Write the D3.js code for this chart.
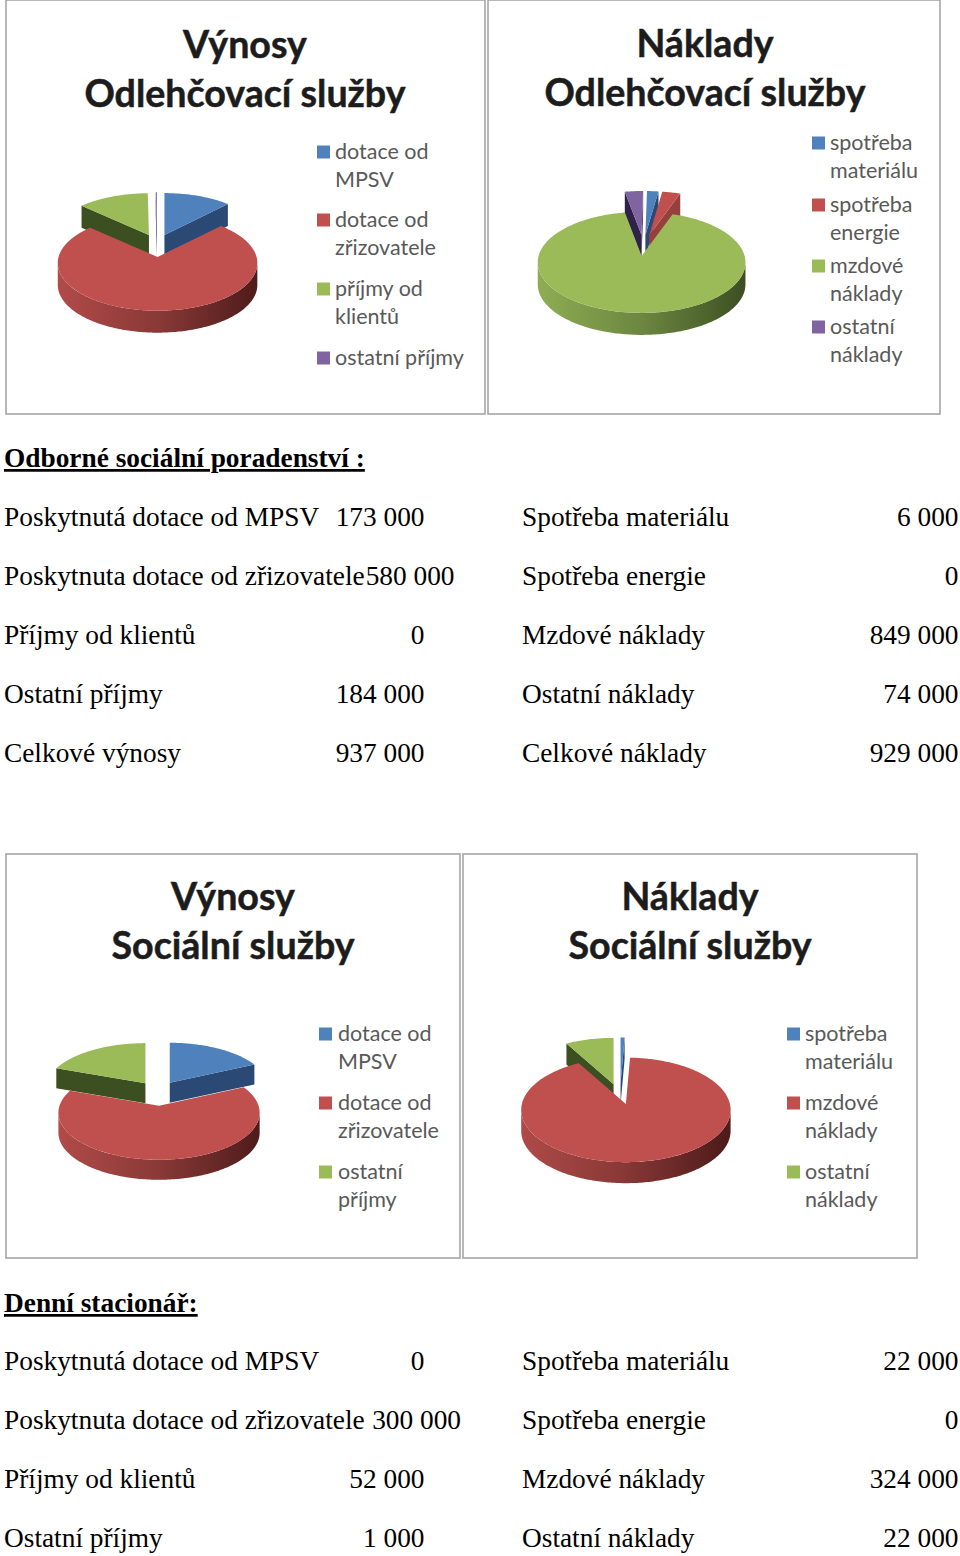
<!DOCTYPE html>
<html>
<head>
<meta charset="utf-8">
<script src="https://cdn.jsdelivr.net/npm/d3@7"></script>
<style>
html, body { margin: 0; padding: 0; background: #fff; }
svg { display: block; }
.title { font-family: Lato, sans-serif; font-weight: 700; font-size: 37.6px; fill: #1c1c1c; stroke: #1c1c1c; stroke-width: 0.5px; text-anchor: middle; }
.legend { font-family: Lato, sans-serif; font-size: 21.5px; fill: #595959; }
.body { font-family: "Liberation Serif", serif; font-size: 27.35px; fill: #000; }
.head { font-weight: 700; text-decoration: underline; }
</style>
</head>
<body>
<div id="canvas"></div>
<script>
// slice shares (percent)
let revenueLabels1 = [["dotace od", "MPSV"], ["dotace od", "zřizovatele"], ["příjmy od", "klientů"], ["ostatní příjmy"]];
let revenueValues1 = [12.3, 74.5, 13, 0.2];
let costLabels1 = [["spotřeba", "materiálu"], ["spotřeba", "energie"], ["mzdové", "náklady"], ["ostatní", "náklady"]];
let costValues1 = [2, 3.2, 91.6, 3.2];
let revenueLabels2 = [["dotace od", "MPSV"], ["dotace od", "zřizovatele"], ["ostatní", "příjmy"]];
let revenueValues2 = [18, 62.5, 19.5];
let costLabels2 = [["spotřeba", "materiálu"], ["mzdové", "náklady"], ["ostatní", "náklady"]];
let costValues2 = [0.7, 91, 8.3];

// tables
let sec1Left = ["Poskytnutá dotace od MPSV", "Poskytnuta dotace od zřizovatele", "Příjmy od klientů", "Ostatní příjmy", "Celkové výnosy"];
let sec1LeftNum = ["173 000", "580 000", "0", "184 000", "937 000"];
let sec1Right = ["Spotřeba materiálu", "Spotřeba energie", "Mzdové náklady", "Ostatní náklady", "Celkové náklady"];
let sec1RightNum = ["6 000", "0", "849 000", "74 000", "929 000"];
let sec2Left = ["Poskytnutá dotace od MPSV", "Poskytnuta dotace od zřizovatele", "Příjmy od klientů", "Ostatní příjmy"];
let sec2LeftNum = ["0", "300 000", "52 000", "1 000"];
let sec2Right = ["Spotřeba materiálu", "Spotřeba energie", "Mzdové náklady", "Ostatní náklady"];
let sec2RightNum = ["22 000", "0", "324 000", "22 000"];

// office chart palette: [top, cut face, wall left, wall mid, wall right]
const blue = ["#4f81bd", "#2a4a75", "#4a76ad", "#35588a", "#223c60"];
const red = ["#c0504d", "#96403d", "#b04b48", "#8a3937", "#4f1c1b"];
const green = ["#9bbb59", "#3c4f20", "#8dac52", "#6b8640", "#3c4e22"];
const purple = ["#8064a2", "#2e2248", "#75599a", "#55407a", "#32254f"];

const svg = d3.select("#canvas").append("svg").attr("width", 960).attr("height", 1556);
const defs = svg.append("defs");

let gradId = 0;
function wallGradient(c, x0, x1) {
    let id = "wall" + (gradId++);
    let g = defs.append("linearGradient").attr("id", id)
        .attr("gradientUnits", "userSpaceOnUse")
        .attr("x1", x0).attr("x2", x1).attr("y1", 0).attr("y2", 0);
    g.append("stop").attr("offset", 0).attr("stop-color", c[2]);
    g.append("stop").attr("offset", 0.5).attr("stop-color", c[3]);
    g.append("stop").attr("offset", 1).attr("stop-color", c[4]);
    return "url(#" + id + ")";
}

function drawPie(o) {
    const g = svg.append("g");
    // perspective of the tilted disc, a = clockwise angle from the top
    const proj = (a, r, s) => {
        let px = r * Math.sin(a), py = -r * Math.cos(a);
        let w = 1 - o.p * py;
        return [s.dx + o.rx * px / w, s.dy + o.ky * py / w];
    };
    const line = d3.line();
    const step = Math.PI / 180;
    const rot = (o.rotate || 0) * step;
    const arcs = d3.pie().sort(null).startAngle(rot).endAngle(rot + 2 * Math.PI)(o.values);
    const frontA = Math.acos(-o.p), frontB = 2 * Math.PI - frontA;

    arcs.forEach(d => {
        let m = (d.startAngle + d.endAngle) / 2;
        d.mid = m;
        d.dx = o.cx + o.explodeX * o.rx * Math.sin(m);
        d.dy = o.cy - o.explodeY * o.ky * Math.cos(m);
        d.color = o.colors[d.index];
    });
    arcs.sort((a, b) => Math.cos(b.mid) - Math.cos(a.mid));

    arcs.forEach(d => {
        let tip = [d.dx, d.dy];
        let down = p => [p[0], p[1] + o.depth];
        // cut faces
        if (Math.sin(d.endAngle) > 0) {
            let e = proj(d.endAngle, 1, d);
            g.append("path").attr("d", line([tip, e, down(e), down(tip)]) + "Z").attr("fill", d.color[1]);
        }
        if (Math.sin(d.startAngle) < 0) {
            let e = proj(d.startAngle, 1, d);
            g.append("path").attr("d", line([tip, e, down(e), down(tip)]) + "Z").attr("fill", d.color[1]);
        }
        // outer wall
        let a0 = Math.max(d.startAngle, frontA), a1 = Math.min(d.endAngle, frontB);
        if (a1 > a0) {
            let rim = d3.range(a0, a1, step).concat([a1]).map(a => proj(a, 1, d));
            let wall = rim.concat(rim.slice().reverse().map(down));
            g.append("path").attr("d", line(wall) + "Z")
                .attr("fill", wallGradient(d.color, o.cx - o.rx, o.cx + o.rx));
        }
        // top face
        let top = d3.range(d.startAngle, d.endAngle, step).concat([d.endAngle]).map(a => proj(a, 1, d));
        g.append("path").attr("d", line([tip].concat(top)) + "Z").attr("fill", d.color[0]);
    });
}

function drawFrame(x0, x1, y0, y1, titles, titleY, cxT, labels, colors, swatchX, textX, rowY) {
    svg.append("rect").attr("x", x0).attr("y", y0).attr("width", x1 - x0).attr("height", y1 - y0)
        .attr("fill", "#fff").attr("stroke", "#a6a6a6").attr("stroke-width", 1.6);
    titles.forEach((t, i) => {
        svg.append("text").attr("class", "title").attr("x", cxT).attr("y", titleY[i]).text(t);
    });
    labels.forEach((lines, i) => {
        svg.append("rect").attr("x", swatchX).attr("y", rowY[i] - 6.5).attr("width", 13).attr("height", 13).attr("fill", colors[i]);
        lines.forEach((t, j) => {
            svg.append("text").attr("class", "legend").attr("x", textX).attr("y", rowY[i] + 7 + j * 27.5).text(t);
        });
    });
}

drawFrame(6, 485, 0, 414, ["Výnosy", "Odlehčovací služby"], [58, 107], 245, revenueLabels1,
    [blue[0], red[0], green[0], purple[0]], 317, 335, [152, 220, 289, 358]);
drawFrame(488, 940, 0, 414, ["Náklady", "Odlehčovací služby"], [57, 106], 705, costLabels1,
    [blue[0], red[0], green[0], purple[0]], 812, 830, [143, 205, 266, 327]);
drawFrame(6, 460, 854, 1258, ["Výnosy", "Sociální služby"], [910, 959], 233, revenueLabels2,
    [blue[0], red[0], green[0]], 319, 338, [1034, 1103, 1172]);
drawFrame(463, 917, 854, 1258, ["Náklady", "Sociální služby"], [910, 959], 690, costLabels2,
    [blue[0], red[0], green[0]], 787, 805, [1034, 1103, 1172]);

drawPie({ values: revenueValues1, colors: [blue, red, green, purple], cx: 157, cy: 245.5, rx: 99, ky: 47, p: 0.125, depth: 22, explodeX: 0.2, explodeY: 0.244 });
drawPie({ values: costValues1, colors: [blue, red, green, purple], cx: 643.5, cy: 245.5, rx: 103, ky: 49.7, p: 0.128, depth: 22, explodeX: 0.23, explodeY: 0.21, rotate: 1 });
drawPie({ values: revenueValues2, colors: [blue, red, green], cx: 158, cy: 1093.3, rx: 99.5, ky: 46, p: 0.149, depth: 20, explodeX: 0.22, explodeY: 0.27 });
drawPie({ values: costValues2, colors: [blue, red, green], cx: 620, cy: 1094, rx: 104, ky: 51.6, p: 0.115, depth: 21, explodeX: 0.24, explodeY: 0.197 });

function bodyText(x, y, t, cls, anchor) {
    svg.append("text").attr("class", "body " + (cls || "")).attr("x", x).attr("y", y)
        .attr("text-anchor", anchor || "start").text(t);
}

const rows = d3.scaleLinear().domain([0, 1]).range([0, 59.1]);
function drawTable(y0, left, leftNum, right, rightNum, numEnds) {
    left.forEach((t, i) => {
        let y = y0 + rows(i);
        bodyText(4, y, t);
        bodyText(numEnds[i], y, leftNum[i], "", "end");
        bodyText(522, y, right[i]);
        bodyText(958.5, y, rightNum[i], "", "end");
    });
}

bodyText(4, 467, "Odborné sociální poradenství :", "head");
drawTable(526, sec1Left, sec1LeftNum, sec1Right, sec1RightNum, [424.5, 454.5, 424.5, 424.5, 424.5]);
bodyText(4, 1312, "Denní stacionář:", "head");
drawTable(1370, sec2Left, sec2LeftNum, sec2Right, sec2RightNum, [424.5, 461, 424.5, 424.5]);
</script>
</body>
</html>
